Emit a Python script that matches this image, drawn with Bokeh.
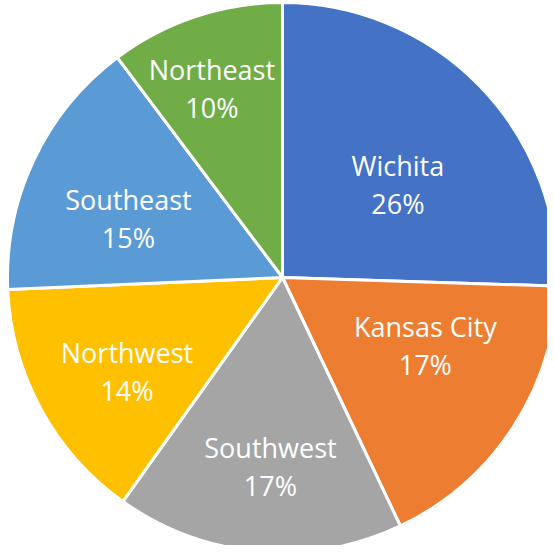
import math
from bokeh.plotting import figure
from bokeh.models import Range1d, ColumnDataSource
from bokeh.core.properties import value
from bokeh.embed import file_html
from bokeh.resources import INLINE

# Data (shares)
regions = ["Wichita", "Kansas City", "Southwest", "Northwest", "Southeast", "Northeast"]
shares = [25.5, 17.45, 16.9, 14.45, 15.45, 10.25]
colors = ["#4472C4", "#ED7D31", "#A5A5A5", "#FFC000", "#5B9BD5", "#70AD47"]

# Layout (label placement, relative to radius and slice mid-angle)
label_r = [0.54, 0.575, 0.69, 0.66, 0.60, 0.735]
label_nudge_deg = [5.1, -7.8, -1.4, -2.5, -4.3, -2.0]

W, H = 547, 545
R = 275
cx_px, cy_px = 282, 277  # pie centre within the figure (px from top-left)

total = sum(shares)
starts, ends, lx, ly, names, pcts = [], [], [], [], [], []
cum = 0.0
for i, s in enumerate(shares):
    f0 = cum / total
    cum += s
    f1 = cum / total
    a0 = math.pi / 2 - 2 * math.pi * f0
    a1 = math.pi / 2 - 2 * math.pi * f1
    starts.append(a0)
    ends.append(a1)
    mid = (a0 + a1) / 2 - math.radians(label_nudge_deg[i])
    lx.append(label_r[i] * R * math.cos(mid))
    ly.append(label_r[i] * R * math.sin(mid))
    names.append(regions[i])
    pcts.append(f"{int(s / total * 100 + 0.5)}%")

src = ColumnDataSource(dict(start=starts, end=ends, color=colors,
                            lx=lx, ly=ly, name=names, pct=pcts))

p = figure(width=W, height=H, output_backend="svg", toolbar_location=None,
           x_range=Range1d(-cx_px, W - cx_px), y_range=Range1d(-(H - cy_px), cy_px),
           min_border=0, outline_line_color=None)
p.axis.visible = False
p.grid.visible = False
p.background_fill_color = "white"
p.border_fill_color = "white"

p.wedge(x=0, y=0, radius=R, start_angle="start", end_angle="end", direction="clock",
        fill_color="color", line_color="white", line_width=3, source=src)

font = value("Open Sans")
p.text(x="lx", y="ly", text="name", source=src, text_color="white", text_font=font,
       text_font_size="27px", text_align="center", text_baseline="middle", y_offset=-19)
p.text(x="lx", y="ly", text="pct", source=src, text_color="white", text_font=font,
       text_font_size="27px", text_align="center", text_baseline="middle", y_offset=19)

open("out.html", "w").write(file_html(p, INLINE))
